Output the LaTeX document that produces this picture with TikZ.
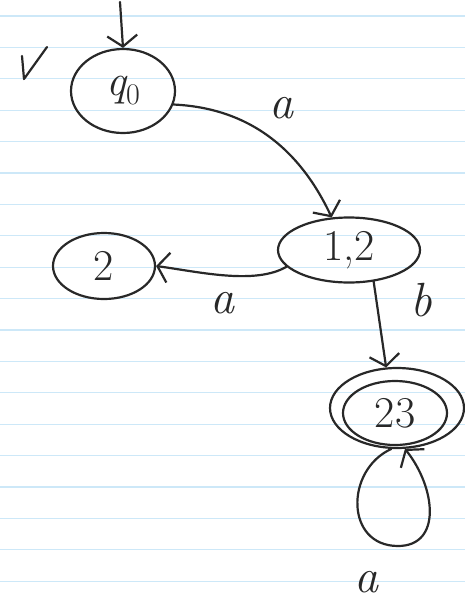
\documentclass[tikz,border=0pt]{standalone}
\usetikzlibrary{shapes.geometric,arrows.meta}
\definecolor{ink}{RGB}{40,40,40}
\definecolor{rule}{RGB}{205,232,248}
\begin{document}
\begin{tikzpicture}[x=1pt,y=-1pt,
  ink line/.style={draw=ink,line width=2.2pt,line cap=round,line join=round},
  st/.style={ellipse,ink line,inner sep=0pt,text=ink,font=\fontsize{44}{48}\selectfont},
  edge/.style={ink line,-{Straight Barb[length=11pt,width=30pt,line width=2.2pt]}},
  lbl/.style={text=ink,font=\fontsize{48}{50}\selectfont\itshape,inner sep=0pt}]
\useasboundingbox (0,0) rectangle (465,606);
\fill[white] (0,0) rectangle (465,606);
\foreach \k in {0,...,18}{
  \draw[rule,line width=1.2pt] (0,16+31.4*\k) -- (465,16+31.4*\k);
}
% states
\node[st,minimum width=104pt,minimum height=84pt] (q0) at (123,91) {\itshape q\raisebox{-9pt}{\fontsize{30}{32}\selectfont\upshape 0}};
\node[st,minimum width=142pt,minimum height=65pt] (n12) at (349,250) {1,2};
\node[st,minimum width=102pt,minimum height=66pt] (n2) at (104,266) {2};
\node[st,minimum width=134pt,minimum height=80pt] (n23) at (397,408) {};
\node[st,minimum width=104pt,minimum height=64pt] (n23i) at (395,413) {23};
% start
\coordinate (s) at (120,2);
\draw[edge] (s) -- (q0.north);
% check mark
\coordinate (c1) at (22,56);
\coordinate (c2) at (24,79);
\coordinate (c3) at (47,47);
\draw[ink line] (c1) -- (c2) -- (c3);
% edges
\draw[edge] (q0.-15) .. controls (250,108) and (300,150) .. (n12.118);
\node[lbl] (la1) at (281,108) {a};
\draw[edge] (n12.195) .. controls (255,285) and (200,272) .. (n2.east);
\node[lbl] (la2) at (222,303) {a};
\draw[edge] (n12.-52) -- (n23.105);
\node[lbl] (lb) at (421,300) {b};
\draw[edge] (n23.262) .. controls (345,470) and (345,546) .. (398,546) .. controls (442,546) and (436,488) .. (n23.-79);
\node[lbl] (la3) at (366,582) {a};
\end{tikzpicture}
\end{document}
